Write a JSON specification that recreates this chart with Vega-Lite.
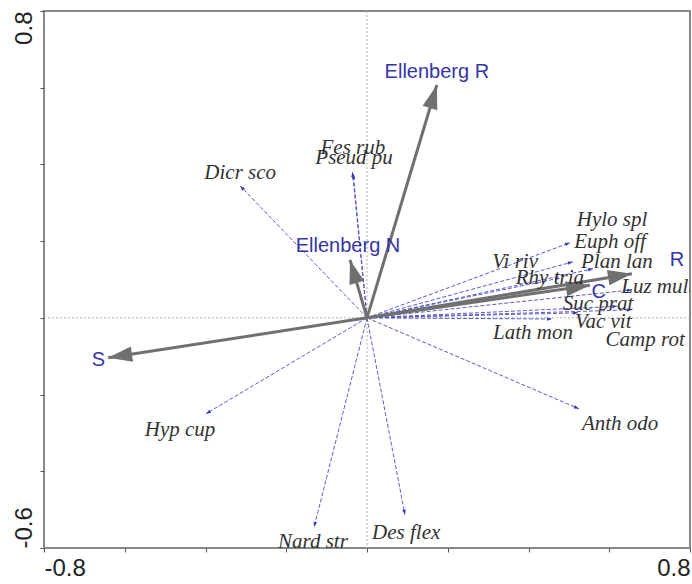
{
  "$schema": "https://vega.github.io/schema/vega-lite/v6.json",
  "width": 646,
  "height": 537,
  "autosize": {"type": "none"},
  "padding": {"left": 44, "top": 11, "right": 2, "bottom": 36},
  "background": "white",
  "config": {
    "view": {"stroke": "#888888", "strokeWidth": 2},
    "axis": {"grid": false, "domain": false, "tickColor": "#555555", "tickSize": 4, "labelFont": "Liberation Sans", "labelFontSize": 24, "labelColor": "#222222"}
  },
  "datasets": {
    "env": [
      {"name": "Ellenberg R", "x": 0.173, "y": 0.607, "lx": 0.173, "ly": 0.641, "o": 0},
      {"name": "Ellenberg N", "x": -0.042, "y": 0.151, "lx": -0.047, "ly": 0.188, "o": 0},
      {"name": "S", "x": -0.641, "y": -0.104, "lx": -0.665, "ly": -0.109, "o": 0},
      {"name": "R", "x": 0.656, "y": 0.115, "lx": 0.768, "ly": 0.151, "o": 0},
      {"name": "C", "x": 0.552, "y": 0.085, "lx": 0.574, "ly": 0.068, "o": 0}
    ],
    "spp": [
      {"name": "Dicr sco", "x": -0.314, "y": 0.344, "lx": -0.314, "ly": 0.378, "o": 0},
      {"name": "Fes rub", "x": -0.036, "y": 0.38, "lx": -0.035, "ly": 0.443, "o": 0},
      {"name": "Pseud pu", "x": -0.034, "y": 0.375, "lx": -0.032, "ly": 0.417, "o": 0},
      {"name": "Hylo spl", "x": 0.503, "y": 0.196, "lx": 0.607, "ly": 0.255, "o": 0},
      {"name": "Euph off", "x": 0.51, "y": 0.146, "lx": 0.602, "ly": 0.198, "o": 0},
      {"name": "Plan lan", "x": 0.56, "y": 0.128, "lx": 0.619, "ly": 0.146, "o": 0},
      {"name": "Vi riv", "x": 0.478, "y": 0.104, "lx": 0.367, "ly": 0.146, "o": 0},
      {"name": "Rhy tria", "x": 0.535, "y": 0.094, "lx": 0.453, "ly": 0.104, "o": 0},
      {"name": "Luz mult", "x": 0.656, "y": 0.073, "lx": 0.72, "ly": 0.081, "o": 0},
      {"name": "Suc prat", "x": 0.656, "y": 0.021, "lx": 0.572, "ly": 0.036, "o": 0},
      {"name": "Vac vit", "x": 0.523, "y": 0.013, "lx": 0.585, "ly": -0.01, "o": 0},
      {"name": "Lath mon", "x": 0.458, "y": -0.003, "lx": 0.411, "ly": -0.039, "o": 0},
      {"name": "Camp rot", "x": 0.62, "y": 0.03, "lx": 0.689, "ly": -0.057, "o": 0},
      {"name": "Hyp cup", "x": -0.399, "y": -0.25, "lx": -0.463, "ly": -0.292, "o": 0},
      {"name": "Anth odo", "x": 0.525, "y": -0.237, "lx": 0.627, "ly": -0.276, "o": 0},
      {"name": "Nard str", "x": -0.131, "y": -0.545, "lx": -0.134, "ly": -0.584, "o": 0},
      {"name": "Des flex", "x": 0.094, "y": -0.513, "lx": 0.097, "ly": -0.56, "o": 0}
    ],
    "zero": [{"o": 0}]
  },
  "layer": [
    {
      "data": {"name": "spp"},
      "transform": [{"calculate": "atan2(datum.x * 403.75, datum.y * 383.6) * 180 / PI", "as": "ang"}],
      "mark": {"type": "point", "shape": "M0,0L-0.35,1L0.35,1Z", "filled": true, "color": "#3030b0", "size": 100, "opacity": 1},
      "encoding": {
        "x": {"field": "x", "type": "quantitative", "scale": {"domain": [-0.8, 0.8], "nice": false, "zero": false},
          "axis": {"title": null, "values": [-0.8, -0.6, -0.4, -0.2, 0, 0.2, 0.4, 0.6, 0.8], "labelFlush": true, "labelPadding": 4,
            "labelExpr": "abs(abs(datum.value) - 0.8) < 0.001 ? (datum.value < 0 ? '-' + format(-datum.value, '.1f') : format(datum.value, '.1f')) : ''"}},
        "y": {"field": "y", "type": "quantitative", "scale": {"domain": [-0.6, 0.8], "nice": false, "zero": false},
          "axis": {"title": null, "values": [-0.6, -0.4, -0.2, 0, 0.2, 0.4, 0.6, 0.8], "labelFlush": false, "labelAngle": -90, "labelPadding": 4,
            "labelBaseline": "bottom", "labelAlign": {"expr": "datum.value > 0 ? 'right' : 'left'"},
            "labelExpr": "abs(datum.value - 0.8) < 0.001 ? '0.8' : (abs(datum.value + 0.6) < 0.001 ? '-0.6' : '')"}},
        "angle": {"field": "ang", "type": "quantitative", "scale": null}
      }
    },
    {
      "data": {"name": "zero"},
      "mark": {"type": "rule", "color": "#b0b0b0", "strokeDash": [2, 2], "strokeWidth": 1},
      "encoding": {"y": {"field": "o", "type": "quantitative", "title": null}}
    },
    {
      "data": {"name": "zero"},
      "mark": {"type": "rule", "color": "#b0b0b0", "strokeDash": [2, 2], "strokeWidth": 1},
      "encoding": {"x": {"field": "o", "type": "quantitative", "title": null}}
    },
    {
      "data": {"name": "spp"},
      "mark": {"type": "rule", "color": "#4a4ac4", "strokeWidth": 0.9, "strokeDash": [4, 2]},
      "encoding": {
        "x": {"field": "o", "type": "quantitative", "title": null},
        "y": {"field": "o", "type": "quantitative", "title": null},
        "x2": {"field": "x"},
        "y2": {"field": "y"}
      }
    },
    {
      "data": {"name": "env"},
      "mark": {"type": "rule", "color": "#707070", "strokeWidth": 3},
      "encoding": {
        "x": {"field": "o", "type": "quantitative", "title": null},
        "y": {"field": "o", "type": "quantitative", "title": null},
        "x2": {"field": "x"},
        "y2": {"field": "y"}
      }
    },
    {
      "data": {"name": "env"},
      "transform": [{"calculate": "atan2(datum.x * 403.75, datum.y * 383.6) * 180 / PI", "as": "ang"}],
      "mark": {"type": "point", "shape": "M0,0L-0.32,1L0.32,1Z", "filled": true, "color": "#707070", "size": 2300, "opacity": 1},
      "encoding": {
        "x": {"field": "x", "type": "quantitative", "title": null},
        "y": {"field": "y", "type": "quantitative", "title": null},
        "angle": {"field": "ang", "type": "quantitative", "scale": null}
      }
    },
    {
      "data": {"name": "spp"},
      "mark": {"type": "text", "font": "Liberation Serif", "fontStyle": "italic", "fontSize": 21, "color": "#333333", "align": "center", "baseline": "middle", "clip": true},
      "encoding": {
        "x": {"field": "lx", "type": "quantitative", "title": null},
        "y": {"field": "ly", "type": "quantitative", "title": null},
        "text": {"field": "name"}
      }
    },
    {
      "data": {"name": "env"},
      "mark": {"type": "text", "font": "Liberation Sans", "fontSize": 20, "color": "#3535a5", "align": "center", "baseline": "middle"},
      "encoding": {
        "x": {"field": "lx", "type": "quantitative", "title": null},
        "y": {"field": "ly", "type": "quantitative", "title": null},
        "text": {"field": "name"}
      }
    }
  ]
}
